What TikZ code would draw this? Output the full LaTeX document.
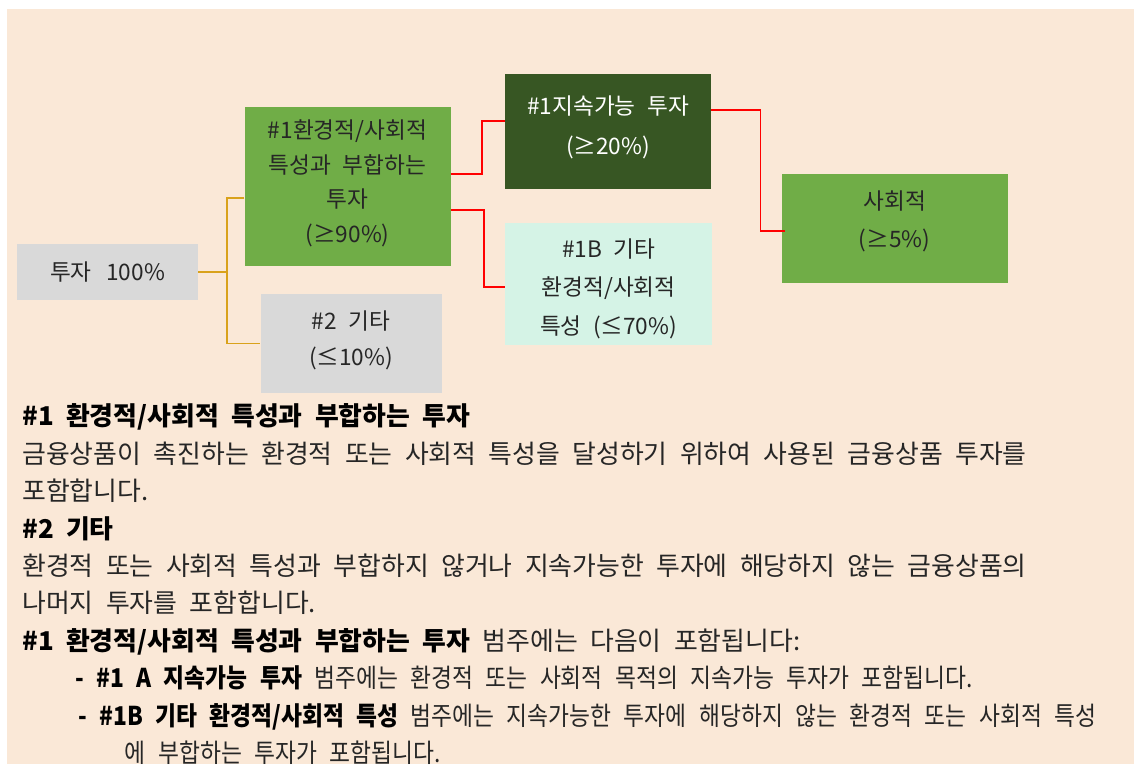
\documentclass[tikz,border=0pt]{standalone}
\usepackage{fontspec}
\setmainfont{Noto Sans CJK KR}
\newfontfamily\krbox{Noto Sans CJK KR}
\newfontfamily\krnote{Noto Sans CJK KR}
\newfontfamily\krlist{Noto Sans CJK KR}[FakeStretch=0.88]
\usetikzlibrary{positioning}
\definecolor{Page}{HTML}{FAE8D7}
\definecolor{Grey}{HTML}{D9D9D9}
\definecolor{Leaf}{HTML}{70AD47}
\definecolor{Forest}{HTML}{375623}
\definecolor{Mint}{HTML}{D5F3E6}
\definecolor{Amber}{HTML}{D9A21B}
\definecolor{Ink}{HTML}{262626}
\newcommand{\boxfont}[1]{\krbox\fontsize{17}{#1}\selectfont\spaceskip=8.5pt\relax}
\newcommand{\notefont}{\krnote\fontsize{19.4}{28.08}\selectfont\spaceskip=9.3pt\relax}
\newcommand{\hd}[1]{{\bfseries\color{black}#1}}
\tikzset{
  every node/.append style={text=Ink},
  leading/.style={font=\boxfont{#1}},
  box/.style={fill=Grey, align=center, inner sep=0pt, leading=27.5},
  leaf/.style={box, fill=Leaf},
  forest/.style={box, fill=Forest, text=white},
  mint/.style={box, fill=Mint},
  link/.style={line width=1.4pt, draw=Amber},
  linkred/.style={line width=1.2pt, draw=red},
  notes/.style={align=left, inner sep=0pt, font=\notefont},
}

\begin{document}
\begin{tikzpicture}[x=0.75pt, y=-0.75pt]
  \useasboundingbox (0,0) rectangle (1141,764);
  \fill[Page] (7,9) rectangle (1134,764);
  % boxes
  \node[box, minimum width=135.75pt, minimum height=42pt] (root) at (107.5,272) {투자\hspace{11pt}100\%};
  \node[leaf, minimum width=154.5pt, minimum height=119.25pt, right=34.5pt of root, yshift=64.1pt, leading=26, text depth=8pt] (esg) {\#1환경적/사회적\\특성과 부합하는\\투자\\(≥90\%)};
  \node[box, minimum width=135.75pt, minimum height=74.25pt, right=46.5pt of root, yshift=-53.6pt, text depth=8pt] (other) {\#2 기타\\(≤10\%)};
  \node[forest, minimum width=154.5pt, minimum height=86.25pt, right=40.5pt of esg, yshift=41.25pt, leading=30, text depth=9pt] (sust) {\#1지속가능 투자\\(≥20\%)};
  \node[mint, minimum width=155.25pt, minimum height=91.5pt, right=40.5pt of esg, yshift=-73.1pt, leading=29] (othesg) {\rule{0pt}{21pt}\#1B 기타\\환경적/사회적\\특성 (≤70\%)};
  \node[leaf, minimum width=169.5pt, minimum height=81.75pt, right=52.5pt of sust, yshift=-72.75pt, leading=29, text depth=14pt] (social) {사회적\\(≥5\%)};
  % connectors
  \coordinate[right=21.75pt of root] (fork);
  \draw[link] (root.east) -- (fork);
  \draw[link] ([yshift=-8.6pt]esg.west) -| (fork) |- (other.west);
  \draw[linkred] ([yshift=9.4pt]esg.east) -- ++(31,0) |- ([yshift=7.9pt]sust.west);
  \draw[linkred] ([yshift=-17.6pt]esg.east) -- ++(33,0) |- ([yshift=-2.25pt]othesg.west);
  \draw[linkred] ([yshift=16.1pt]sust.east) -- ++(49,0) |- ([yshift=-1.9pt,xshift=3pt]social.west);
  % explanation
  \node[notes, anchor=north west] (notes) at (22,403.5) {%
    \hd{\#1 환경적/사회적 특성과 부합하는 투자}\\
    금융상품이 촉진하는 환경적 또는 사회적 특성을 달성하기 위하여 사용된 금융상품 투자를\\
    포함합니다.\\
    \hd{\#2 기타}\\
    환경적 또는 사회적 특성과 부합하지 않거나 지속가능한 투자에 해당하지 않는 금융상품의\\
    나머지 투자를 포함합니다.\\
    \hd{\#1 환경적/사회적 특성과 부합하는 투자} 범주에는 다음이 포함됩니다:\\
    \hspace*{39.75pt}{\krlist\hd{- \#1 A 지속가능 투자} 범주에는 환경적 또는 사회적 목적의 지속가능 투자가 포함됩니다.}\\
    \hspace*{42pt}{\krlist\hd{- \#1B 기타 환경적/사회적 특성} 범주에는 지속가능한 투자에 해당하지 않는 환경적 또는 사회적 특성}\\
    \hspace*{77pt}{\krlist 에 부합하는 투자가 포함됩니다.}};
\end{tikzpicture}
\end{document}
